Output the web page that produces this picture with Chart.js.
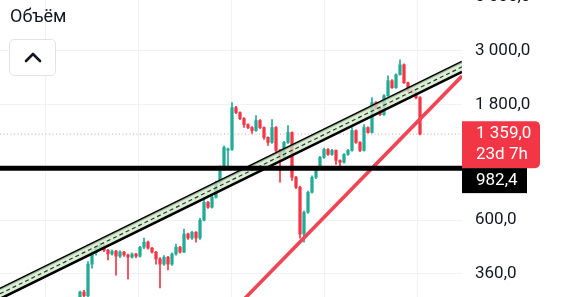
<!DOCTYPE html>
<html>
<head>
<meta charset="utf-8">
<script src="https://cdn.jsdelivr.net/npm/chart.js@4.4.1/dist/chart.umd.min.js"></script>
<style>
    html, body { margin: 0; padding: 0; background: #fff; }
    #wrap { position: relative; width: 563px; height: 297px; overflow: hidden; }
    #chart { position: absolute; left: 0; top: 0; }
    .title {
        position: absolute; left: 10px; top: 5px;
        font: 18px Roboto, sans-serif; color: #131722;
    }
    .btn {
        position: absolute; left: 9px; top: 39px; width: 45px; height: 35px;
        border: 1px solid #e0e3eb; border-radius: 5px; background: #fff;
    }
    .btn svg { position: absolute; left: 13px; top: 10px; }
</style>
</head>
<body>
<div id="wrap">
    <canvas id="chart" width="563" height="297"></canvas>
    <div class="title">Объём</div>
    <div class="btn">
        <svg width="20" height="14" viewBox="0 0 20 14">
            <polyline points="3,11 10,4 17,11" fill="none" stroke="#131722" stroke-width="2.6" stroke-linecap="round" stroke-linejoin="round"/>
        </svg>
    </div>
</div>
<script>
// candles, one per index (daily-ish bars)
const opens = [284, 303, 292, 395, 440, 462, 469, 451, 435, 447, 426, 443, 431, 422, 435, 426, 464, 487, 460, 443, 415, 395, 422, 395, 435, 464, 443, 526, 506, 535, 506, 600, 711, 678, 746, 860, 991, 1165, 1175, 1749, 1668, 1575, 1489, 1447, 1406, 1546, 1447, 1317, 1256, 1447, 1164, 1089, 1256, 1380, 902, 820, 526, 647, 782, 902, 991, 1089, 1175, 1121, 1164, 1059, 1039, 1121, 1164, 1406, 1256, 1164, 1447, 1380, 1834, 1732, 1636, 1959, 2258, 2113, 2390, 2627, 2216, 2054, 2016, 1923];
const closes = [303, 293, 395, 443, 464, 469, 451, 435, 447, 426, 443, 431, 422, 435, 426, 464, 487, 460, 443, 415, 395, 422, 395, 435, 464, 443, 526, 506, 535, 506, 600, 711, 678, 746, 860, 991, 1198, 1180, 1749, 1668, 1575, 1489, 1447, 1406, 1546, 1447, 1317, 1256, 1447, 1164, 1089, 1256, 1380, 902, 820, 526, 647, 782, 902, 991, 1089, 1175, 1121, 1164, 1059, 1039, 1121, 1164, 1406, 1256, 1164, 1447, 1380, 1834, 1732, 1636, 1959, 2258, 2113, 2390, 2627, 2216, 2054, 2016, 1923, 1359];
const highs = [306, 308, 405, 447, 470, 482, 475, 455, 452, 450, 448, 446, 435, 440, 438, 468, 506, 492, 463, 446, 420, 428, 425, 440, 478, 468, 551, 530, 540, 538, 610, 746, 718, 755, 870, 1005, 1215, 1190, 1834, 1770, 1680, 1590, 1500, 1460, 1621, 1560, 1455, 1325, 1561, 1460, 1175, 1270, 1475, 1390, 910, 830, 655, 790, 915, 1000, 1100, 1190, 1185, 1175, 1170, 1065, 1130, 1175, 1447, 1415, 1265, 1489, 1455, 1923, 1850, 1745, 1980, 2367, 2280, 2410, 2755, 2650, 2230, 2070, 2030, 1940];
const lows = [278, 285, 285, 380, 430, 455, 445, 411, 430, 356, 420, 425, 343, 418, 420, 422, 458, 455, 438, 395, 315, 390, 374, 390, 430, 438, 440, 500, 500, 487, 500, 595, 670, 672, 740, 850, 963, 972, 1165, 1650, 1560, 1447, 1430, 1367, 1395, 1430, 1291, 1220, 1245, 1150, 860, 1080, 1245, 876, 810, 506, 487, 640, 775, 890, 980, 1080, 1110, 1110, 1019, 991, 1030, 1110, 1155, 1245, 1150, 1155, 1370, 1370, 1720, 1620, 1625, 1945, 2100, 2100, 2380, 2200, 2040, 2000, 1900, 1350];

const lastPrice = 1359.0;
const lastTimer = "23d 7h";
const levelPrice = 982.4;

// drawn lines, as [index, price] end points
const channelTop = [[-20, 312], [95.5, 2700]];
const channelMid = [[-20, 298], [95.5, 2575]];
const channelBottom = [[-20, 284], [95.5, 2455]];
const supportLine = [[40, 272], [95.5, 2360]];

const yTicks = [360, 600, 1800, 3000];
const yTopTick = 5000; // cut off at the top edge
const xGrid = [3, 26.25, 49.5, 72.75];
const xRange = [-20, 95.5];
const yRange = [289, 4863];

const green = "#22ab94";
const red = "#f23645";

const fmt = (v, digits = 1) => {
    const parts = v.toFixed(digits).split(".");
    parts[0] = parts[0].replace(/\B(?=(\d{3})+(?!\d))/g, " ");
    return parts.join(",");
};

const toPts = (arr) => arr.map(([x, y]) => ({ x, y }));
const candleColors = closes.map((c, i) => (c >= opens[i] ? green : red));

const noPad = (scale) => {
    scale.paddingTop = 0;
    scale.paddingBottom = 0;
    scale.paddingLeft = 0;
    scale.paddingRight = 0;
};

const priceTags = {
    id: "priceTags",
    afterDraw(chart) {
        const { ctx, chartArea, scales } = chart;
        const x0 = chartArea.right;
        ctx.save();
        ctx.font = "17px Roboto, sans-serif";
        ctx.textBaseline = "middle";
        ctx.textAlign = "left";

        ctx.fillStyle = "#131722";
        ctx.fillText(fmt(yTopTick), x0 + 13, scales.y.getPixelForValue(yTopTick));

        const py = scales.y.getPixelForValue(lastPrice);
        const redTop = py - 13;
        const redH = 47;
        ctx.fillStyle = red;
        ctx.beginPath();
        ctx.roundRect(x0, redTop, 78, redH, [0, 5, 5, 0]);
        ctx.fill();
        ctx.fillStyle = "#fff";
        ctx.fillText(fmt(lastPrice), x0 + 14, py);
        ctx.fillText(lastTimer, x0 + 14, py + 21);

        const ly = scales.y.getPixelForValue(levelPrice);
        const top = Math.max(ly - 12, redTop + redH);
        ctx.fillStyle = "#000";
        ctx.fillRect(x0, top, 65, 25);
        ctx.fillStyle = "#fff";
        ctx.fillText(fmt(levelPrice), x0 + 14, top + 13);
        ctx.restore();
    },
};

const lineDs = (pts, color, width, extra = {}) => ({
    type: "line",
    data: toPts(pts),
    borderColor: color,
    borderWidth: width,
    pointRadius: 0,
    fill: false,
    tension: 0,
    ...extra,
});

new Chart(document.getElementById("chart"), {
    type: "bar",
    data: {
        datasets: [
            {
                data: closes.map((c, i) => ({ x: i, y: [lows[i], highs[i]] })),
                backgroundColor: candleColors,
                barThickness: 1,
                grouped: false,
                order: 9,
            },
            {
                data: closes.map((c, i) => ({ x: i, y: [opens[i], c] })),
                backgroundColor: candleColors,
                barThickness: 2.6,
                grouped: false,
                order: 8,
            },
            lineDs([[xRange[0], lastPrice], [xRange[1], lastPrice]], "rgba(200,120,120,0.7)", 1, {
                borderDash: [1, 2.5],
                order: 7,
            }),
            lineDs(channelTop, "#000", 2.6, { order: 4 }),
            lineDs(channelBottom, "#000", 2.6, {
                fill: "-1",
                backgroundColor: "rgba(205,232,198,0.75)",
                order: 3,
            }),
            lineDs(channelMid, "#333", 1.2, { borderDash: [4, 3], order: 2 }),
            lineDs(supportLine, "#ef4655", 3.6, { order: 1 }),
            lineDs([[xRange[0], levelPrice], [xRange[1], levelPrice]], "#000", 5, { order: 0 }),
        ],
    },
    options: {
        responsive: false,
        animation: false,
        layout: { padding: 0 },
        plugins: {
            legend: { display: false },
            tooltip: { enabled: false },
        },
        scales: {
            x: {
                type: "linear",
                offset: false,
                min: xRange[0],
                max: xRange[1],
                afterBuildTicks: (scale) => {
                    scale.ticks = xGrid.map((v) => ({ value: v }));
                },
                afterFit: (scale) => {
                    scale.height = 0;
                    noPad(scale);
                },
                ticks: { display: false },
                border: { display: false },
                grid: { color: "#f1f2f4", drawTicks: false },
            },
            y: {
                type: "logarithmic",
                position: "right",
                min: yRange[0],
                max: yRange[1],
                afterBuildTicks: (scale) => {
                    scale.ticks = yTicks.map((v) => ({ value: v }));
                },
                afterFit: (scale) => {
                    scale.width = 101;
                    noPad(scale);
                },
                border: { display: false },
                grid: { color: "#f1f2f4", drawTicks: false },
                ticks: {
                    padding: 13,
                    crossAlign: "near",
                    color: "#131722",
                    font: { family: "Roboto", size: 17 },
                    callback: (v) => fmt(v),
                },
            },
        },
    },
    plugins: [priceTags],
});
</script>
</body>
</html>
